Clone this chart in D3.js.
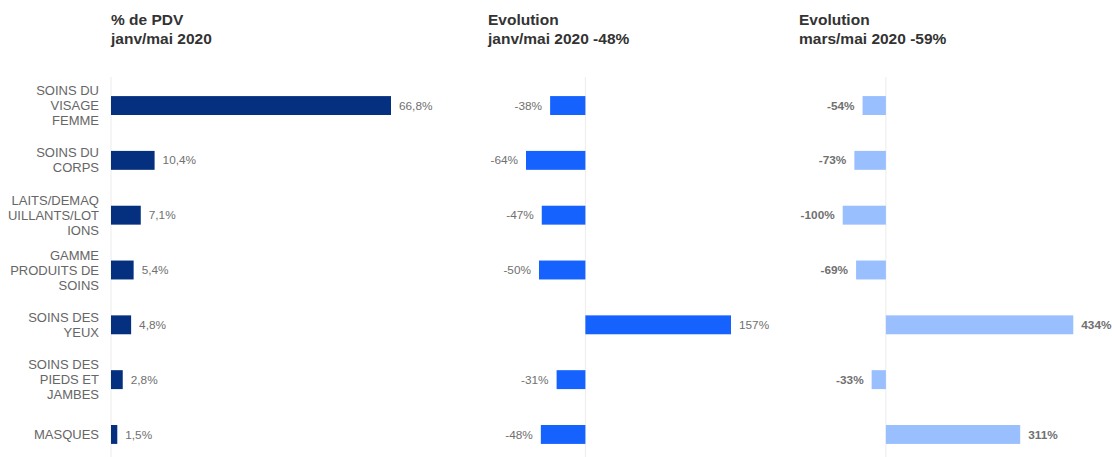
<!DOCTYPE html>
<html>
<head>
<meta charset="utf-8">
<script src="https://cdn.jsdelivr.net/npm/d3@7"></script>
<style>
  html, body { margin: 0; padding: 0; background: #fff; }
  svg { display: block; font-family: "Liberation Sans", Arial, sans-serif; }
</style>
</head>
<body>
<svg id="chart" width="1112" height="457"></svg>
<script>
// ---- data ----
const categories = [
  ["SOINS DU", "VISAGE", "FEMME"],
  ["SOINS DU", "CORPS"],
  ["LAITS/DEMAQ", "UILLANTS/LOT", "IONS"],
  ["GAMME", "PRODUITS DE", "SOINS"],
  ["SOINS DES", "YEUX"],
  ["SOINS DES", "PIEDS ET", "JAMBES"],
  ["MASQUES"]
];
const pdvShare = [66.8, 10.4, 7.1, 5.4, 4.8, 2.8, 1.5];
const evolJanvMai = [-38, -64, -47, -50, 157, -31, -48];
const evolMarsMai = [-54, -73, -100, -69, 434, -33, 311];
const titles = [
  ["% de PDV", "janv/mai 2020"],
  ["Evolution", "janv/mai 2020 -48%"],
  ["Evolution", "mars/mai 2020 -59%"]
];

// ---- layout ----
const svg = d3.select("#chart");
const rowKeys = d3.range(categories.length);
const y = d3.scaleBand().domain(rowKeys).range([78, 462]).paddingInner(0.655).paddingOuter(0.33);

const panels = [
  { values: pdvShare, domain: [0, 66.8], range: [111, 391], color: "#05307F",
    fmt: v => d3.format(".1f")(v).replace(".", ",") + "%", bold: false, titleX: 111 },
  { values: evolJanvMai, domain: [-64, 157], range: [526, 731], color: "#1562FF",
    fmt: v => v + "%", bold: false, titleX: 488 },
  { values: evolMarsMai, domain: [-100, 434], range: [842.7, 1073.3], color: "#99BFFF",
    fmt: v => v + "%", bold: true, titleX: 799 }
];

panels.forEach((p, pi) => {
  const x = d3.scaleLinear().domain(p.domain).range(p.range);
  const g = svg.append("g");

  // title
  const t = g.append("text").attr("x", p.titleX).attr("y", 25)
    .attr("font-size", 15.5).attr("font-weight", "bold").attr("fill", "#333");
  titles[pi].forEach((line, i) => {
    t.append("tspan").attr("x", p.titleX).attr("dy", i === 0 ? 0 : 19).text(line);
  });

  // zero axis line
  g.append("line")
    .attr("x1", x(0)).attr("x2", x(0))
    .attr("y1", 77).attr("y2", 457)
    .attr("stroke", "#ececec").attr("stroke-width", 1);

  // bars
  g.selectAll("rect.bar").data(p.values).join("rect")
    .attr("class", "bar")
    .attr("x", d => Math.min(x(0), x(d)))
    .attr("y", (d, i) => y(i))
    .attr("width", d => Math.abs(x(d) - x(0)))
    .attr("height", y.bandwidth())
    .attr("fill", p.color);

  // value labels
  g.selectAll("text.val").data(p.values).join("text")
    .attr("class", "val")
    .attr("x", d => d >= 0 ? x(d) + 8 : x(d) - 8)
    .attr("y", (d, i) => y(i) + y.bandwidth() / 2)
    .attr("dy", "0.35em")
    .attr("text-anchor", d => d >= 0 ? "start" : "end")
    .attr("font-size", 11.8)
    .attr("font-weight", p.bold ? "bold" : "normal")
    .attr("fill", "#707070")
    .text(p.fmt);
});

// category labels
const catG = svg.append("g");
categories.forEach((lines, i) => {
  const cy = y(i) + y.bandwidth() / 2;
  const lh = 15;
  const t = catG.append("text")
    .attr("text-anchor", "end")
    .attr("font-size", 13)
    .attr("fill", "#666");
  lines.forEach((ln, j) => {
    t.append("tspan")
      .attr("x", 99)
      .attr("y", cy + (j - (lines.length - 1) / 2) * lh)
      .attr("dy", "0.35em")
      .text(ln);
  });
});
</script>
</body>
</html>
